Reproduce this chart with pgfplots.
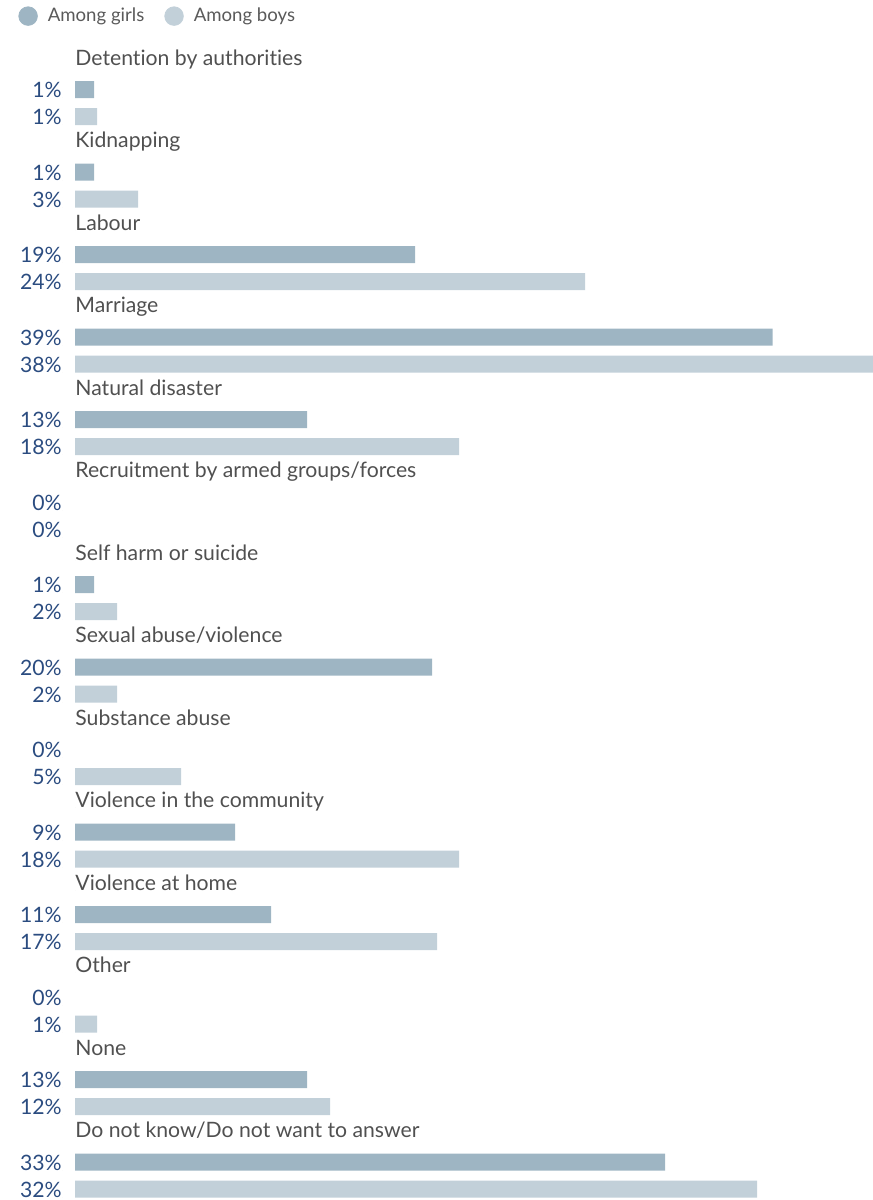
\documentclass[border=0pt]{standalone}
\usepackage{fontspec}
\setmainfont{Lato}[Ligatures={NoCommon}]
\usepackage{pgfplots}
\pgfplotsset{compat=1.18}
\definecolor{girls}{HTML}{9EB5C3}
\definecolor{boys}{HTML}{C2D0D9}
\definecolor{pct}{HTML}{2B4C80}
\definecolor{cat}{HTML}{505050}
\definecolor{leg}{HTML}{5A5A5A}
\begin{document}
\begin{tikzpicture}
\begin{axis}[
  scale only axis, width=436.5pt, height=600pt,
  xmin=-75, xmax=798, ymin=0, ymax=1200, y dir=reverse,
  hide axis, clip=false,
  legend style={at={(axis description cs:0,1)}, anchor=north west, draw=none, fill=none,
    inner sep=0pt, outer sep=0pt, font=\fontsize{9.3}{10}\selectfont, text=leg,
    legend columns=2, legend cell align=left,
    /tikz/every even column/.append style={column sep=10pt},
    /tikz/every odd column/.append style={column sep=5pt},
    nodes={inner sep=0pt}, xshift=9.2pt, yshift=-3.2pt},
]
\addlegendimage{legend image code/.code={\fill[girls] (0pt,0pt) circle (4.65pt);}}
\addlegendentry{Among girls}
\addlegendimage{legend image code/.code={\fill[boys] (0pt,0pt) circle (4.65pt);}}
\addlegendentry{Among boys}

% page frame = axis area
\path (rel axis cs:0,0) rectangle (rel axis cs:1,1);

% girls bars (bar length in px-units, start at x=0); zero values have no bar
\addplot[forget plot, xbar, bar width=17, bar shift=0pt, fill=girls, draw=none] coordinates {
(19,89.5) (19,172) (340,254.5) (697.7,337) (232,419.5) (19,584.5)
(357,667) (160,832) (196,914.5) (232,1079.5) (590,1162)};
% boys bars
\addplot[forget plot, xbar, bar width=17, bar shift=0pt, fill=boys, draw=none] coordinates {
(22,116.5) (63,199) (510,281.5) (798,364) (384,446.5) (42,611.5)
(42,694) (106,776.5) (384,859) (362,941.5) (22,1024) (255,1106.5) (682,1189)};

% percentage labels
\addplot[forget plot, only marks, mark=*, mark size=0pt, mark options={draw=none, fill=none},
  nodes near coords, point meta=explicit symbolic,
  every node near coord/.append style={anchor=base east, inner sep=0pt, text=pct,
    font=\fontsize{10.6}{12}\selectfont}] coordinates {
(-13,97.5)[1\%] (-13,124.5)[1\%]
(-13,180)[1\%] (-13,207)[3\%]
(-13,262.5)[19\%] (-13,289.5)[24\%]
(-13,345)[39\%] (-13,372)[38\%]
(-13,427.5)[13\%] (-13,454.5)[18\%]
(-13,510)[0\%] (-13,537)[0\%]
(-13,592.5)[1\%] (-13,619.5)[2\%]
(-13,675)[20\%] (-13,702)[2\%]
(-13,757.5)[0\%] (-13,784.5)[5\%]
(-13,840)[9\%] (-13,867)[18\%]
(-13,922.5)[11\%] (-13,949.5)[17\%]
(-13,1005)[0\%] (-13,1032)[1\%]
(-13,1087.5)[13\%] (-13,1114.5)[12\%]
(-13,1170)[33\%] (-13,1197)[32\%]};

% category titles
\addplot[forget plot, only marks, mark=*, mark size=0pt, mark options={draw=none, fill=none},
  nodes near coords, point meta=explicit symbolic,
  every node near coord/.append style={anchor=base west, inner sep=0pt, text=cat,
    font=\fontsize{10.6}{12}\selectfont}] coordinates {
(0,65)[Detention by authorities]
(0,147.5)[Kidnapping]
(0,230)[Labour]
(0,312.5)[Marriage]
(0,395)[Natural disaster]
(0,477.5)[Recruitment by armed groups/forces]
(0,560)[Self harm or suicide]
(0,642.5)[Sexual abuse/violence]
(0,725)[Substance abuse]
(0,807.5)[Violence in the community]
(0,890)[Violence at home]
(0,972.5)[Other]
(0,1055)[None]
(0,1137.5)[Do not know/Do not want to answer]};
\end{axis}
\end{tikzpicture}
\end{document}
